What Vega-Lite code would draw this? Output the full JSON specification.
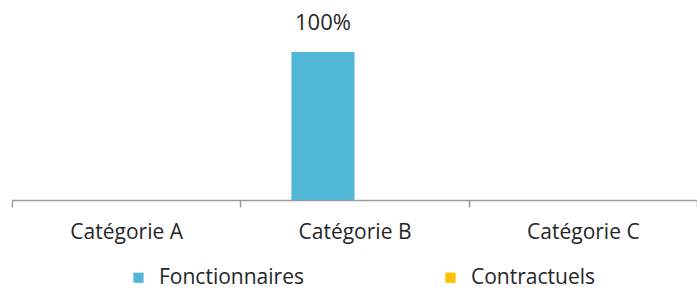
{
  "$schema": "https://vega.github.io/schema/vega-lite/v6.json",
  "width": 685,
  "height": 148,
  "autosize": "none",
  "padding": {"left": 12, "top": 52, "right": 0, "bottom": 91},
  "background": "white",
  "config": {"view": {"stroke": null}, "font": "Open Sans"},
  "data": {
    "values": [
      {"categorie": "Catégorie A", "statut": "Fonctionnaires", "part": 0},
      {"categorie": "Catégorie A", "statut": "Contractuels", "part": 0},
      {"categorie": "Catégorie B", "statut": "Fonctionnaires", "part": 1},
      {"categorie": "Catégorie B", "statut": "Contractuels", "part": 0},
      {"categorie": "Catégorie C", "statut": "Fonctionnaires", "part": 0},
      {"categorie": "Catégorie C", "statut": "Contractuels", "part": 0}
    ]
  },
  "encoding": {
    "x": {
      "field": "categorie", "type": "nominal", "title": null,
      "scale": {"paddingInner": 0, "paddingOuter": 0},
      "axis": {
        "labelAngle": 0, "labelFontSize": 21, "labelColor": "#262626",
        "labelPadding": 14, "domainColor": "#9a9a9a", "domainWidth": 1.5,
        "tickColor": "#9a9a9a", "tickWidth": 1.5, "tickSize": 7,
        "tickBand": "extent", "labelFont": "Open Sans"
      }
    },
    "xOffset": {
      "field": "statut", "type": "nominal",
      "sort": ["Fonctionnaires", "Contractuels"],
      "scale": {"paddingInner": 0, "paddingOuter": 0.81}
    },
    "y": {
      "field": "part", "type": "quantitative",
      "scale": {"domain": [0, 1]}, "axis": null
    }
  },
  "layer": [
    {
      "mark": {"type": "bar"},
      "encoding": {
        "color": {
          "field": "statut", "type": "nominal",
          "sort": ["Fonctionnaires", "Contractuels"],
          "scale": {"domain": ["Fonctionnaires", "Contractuels"], "range": ["#52B6D6", "#FFC000"]},
          "legend": {
            "title": null, "orient": "none", "direction": "horizontal",
            "legendX": 116, "legendY": 215,
            "symbolType": "square", "symbolSize": 105, "symbolStrokeWidth": 0,
            "labelFontSize": 21, "labelColor": "#262626", "labelOffset": 10,
            "columnPadding": 136, "labelFont": "Open Sans", "labelLimit": 400
          }
        }
      }
    },
    {
      "transform": [{"filter": "datum.part > 0"}],
      "mark": {"type": "text", "dy": -29, "fontSize": 22, "color": "#262626", "font": "Open Sans", "clip": false},
      "encoding": {
        "text": {"field": "part", "type": "quantitative", "format": ".0%"}
      }
    }
  ]
}
